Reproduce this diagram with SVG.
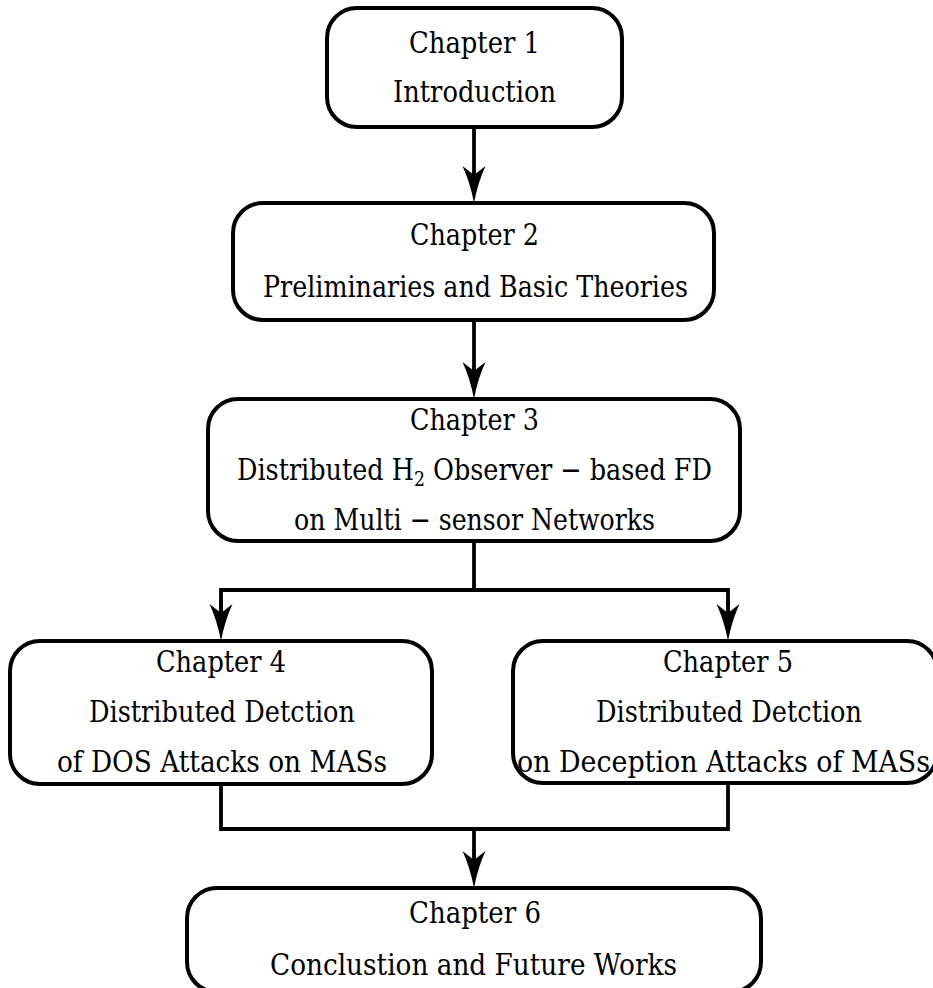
<svg xmlns="http://www.w3.org/2000/svg" width="933" height="988" viewBox="0 0 933 988">
  <style>
    .box { fill: #ffffff; stroke: #000000; stroke-width: 4; }
    .wire { fill: none; stroke: #000000; stroke-width: 3.8; stroke-linejoin: miter; stroke-linecap: butt; }
    text { font-family: "DejaVu Serif", serif; font-size: 29.5px; fill: #000000; text-anchor: middle; }
    .sub { font-size: 20px; }
  </style>
  <defs>
    <marker id="head" markerUnits="userSpaceOnUse" markerWidth="40" markerHeight="26" viewBox="0 -13 40 26" refX="27" refY="0" orient="auto">
      <path d="M37,0 Q16,-4 0,-11.5 L9,0 L0,11.5 Q16,4 37,0 Z" fill="#000000"/>
    </marker>
  </defs>

  <!-- connectors -->
  <g id="connectors">
    <path class="wire" d="M474,127 V193" marker-end="url(#head)"/>
    <path class="wire" d="M474,320 V389" marker-end="url(#head)"/>
    <path class="wire" d="M474,541 V590"/>
    <path class="wire" d="M221,631 V590 H728 V631"/>
    <path class="wire" d="M221,600 V631" marker-end="url(#head)"/>
    <path class="wire" d="M728,600 V631" marker-end="url(#head)"/>
    <path class="wire" d="M221,784 V829 H728 V783"/>
    <path class="wire" d="M474,829 V878" marker-end="url(#head)"/>
  </g>

  <g id="ch1">
    <rect class="box" x="327" y="8" width="295" height="119" rx="30" ry="30"/>
    <text x="474.5" y="53" textLength="131" lengthAdjust="spacingAndGlyphs">Chapter 1</text>
    <text x="474.5" y="102" textLength="163" lengthAdjust="spacingAndGlyphs">Introduction</text>
  </g>

  <g id="ch2">
    <rect class="box" x="233" y="203" width="481" height="117" rx="30" ry="30"/>
    <text x="474.5" y="245" textLength="129" lengthAdjust="spacingAndGlyphs">Chapter 2</text>
    <text x="475.5" y="297" textLength="425" lengthAdjust="spacingAndGlyphs">Preliminaries and Basic Theories</text>
  </g>

  <g id="ch3">
    <rect class="box" x="208" y="399" width="532" height="142" rx="30" ry="30"/>
    <text x="474.5" y="430" textLength="129" lengthAdjust="spacingAndGlyphs">Chapter 3</text>
    <text x="474.5" y="480" textLength="475" lengthAdjust="spacingAndGlyphs">Distributed H<tspan class="sub" dy="6">2</tspan><tspan dy="-6"> Observer − based FD</tspan></text>
    <text x="474.5" y="530" textLength="361" lengthAdjust="spacingAndGlyphs">on Multi − sensor Networks</text>
  </g>

  <g id="ch4">
    <rect class="box" x="10" y="641" width="422" height="143" rx="30" ry="30"/>
    <text x="221" y="672" textLength="130" lengthAdjust="spacingAndGlyphs">Chapter 4</text>
    <text x="222" y="722" textLength="266" lengthAdjust="spacingAndGlyphs">Distributed Detction</text>
    <text x="222" y="772" textLength="330" lengthAdjust="spacingAndGlyphs">of DOS Attacks on MASs</text>
  </g>

  <g id="ch5">
    <rect class="box" x="513" y="641" width="424" height="142" rx="30" ry="30"/>
    <text x="728" y="672" textLength="130" lengthAdjust="spacingAndGlyphs">Chapter 5</text>
    <text x="729" y="722" textLength="266" lengthAdjust="spacingAndGlyphs">Distributed Detction</text>
    <text x="723.5" y="772" textLength="413" lengthAdjust="spacingAndGlyphs">on Deception Attacks of MASs</text>
  </g>

  <g id="ch6">
    <rect class="box" x="187" y="888" width="574" height="104" rx="30" ry="30"/>
    <text x="475" y="923" textLength="132" lengthAdjust="spacingAndGlyphs">Chapter 6</text>
    <text x="473.5" y="975" textLength="407" lengthAdjust="spacingAndGlyphs">Conclustion and Future Works</text>
  </g>
</svg>
